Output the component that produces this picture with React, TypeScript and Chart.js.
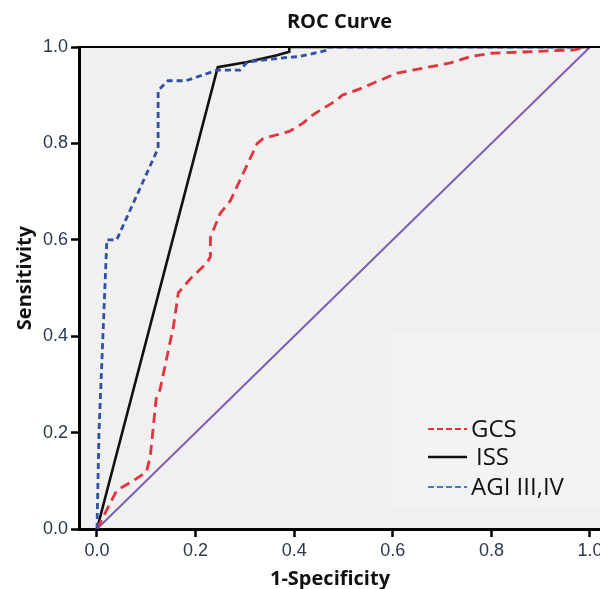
import React, { useEffect, useRef } from "react";
import { Chart, registerables } from "chart.js";

Chart.register(...registerables);

// ---- text ----
const chartTitle = "ROC Curve";
const xAxisTitle = "1-Specificity";
const yAxisTitle = "Sensitivity";

// ---- ticks ----
const xTickValues = [0, 0.2, 0.4, 0.6, 0.8, 1.0];
const yTickValues = [0, 0.2, 0.4, 0.6, 0.8, 1.0];
const xMin = -0.0365;
const xMax = 1.0203;
const yMin = 0;
const yMax = 1;

// ---- series (1-Specificity, Sensitivity) ----
const gcsLabel = "GCS";
const gcsX = [0, 0.02, 0.04, 0.073, 0.1, 0.108, 0.12, 0.128, 0.155, 0.165, 0.19, 0.223, 0.23, 0.23, 0.25, 0.27, 0.325, 0.337, 0.39, 0.418, 0.432, 0.453, 0.487, 0.497, 0.528, 0.609, 0.717, 0.757, 0.8, 0.967, 0.995, 1];
const gcsY = [0, 0.04, 0.08, 0.1, 0.118, 0.15, 0.27, 0.29, 0.42, 0.49, 0.52, 0.552, 0.565, 0.605, 0.655, 0.68, 0.8, 0.81, 0.825, 0.842, 0.855, 0.869, 0.89, 0.9, 0.911, 0.946, 0.967, 0.98, 0.987, 0.994, 1, 1];

const issLabel = "ISS";
const issX = [0, 0.245, 0.305, 0.365, 0.39, 0.39, 1];
const issY = [0, 0.958, 0.969, 0.983, 0.99, 1, 1];

const agiLabel = "AGI III,IV";
const agiX = [0, 0.004, 0.012, 0.02, 0.04, 0.124, 0.124, 0.144, 0.18, 0.244, 0.29, 0.305, 0.39, 0.41, 0.47, 0.47, 1];
const agiY = [0, 0.2, 0.4, 0.6, 0.6, 0.79, 0.91, 0.93, 0.93, 0.952, 0.952, 0.969, 0.979, 0.98, 0.994, 1, 1];

const refX = [0, 1];
const refY = [0, 1];

const toPoints = (xs: number[], ys: number[]) => xs.map((x, i) => ({ x, y: ys[i] }));

const legendItems = [
  { label: gcsLabel, color: "#e8323c", dash: [6, 3], width: 2 },
  { label: issLabel, color: "#111111", dash: [] as number[], width: 2.5 },
  { label: agiLabel, color: "#4a78cc", dash: [6, 3], width: 2 },
];

const rocPlugin = {
  id: "rocDecor",
  beforeDraw(chart: any) {
    const { ctx, chartArea: a } = chart;
    ctx.save();
    ctx.fillStyle = "#f0f0f0";
    ctx.fillRect(a.left, a.top, a.right - a.left, a.bottom - a.top);
    // legend box
    ctx.fillStyle = "#f3f3f3";
    ctx.fillRect(393, 333, a.right - 393, 174);
    ctx.restore();
  },
  afterDraw(chart: any) {
    const { ctx, chartArea: a } = chart;
    ctx.save();
    // top border
    ctx.strokeStyle = "#000";
    ctx.lineWidth = 2;
    ctx.beginPath();
    ctx.moveTo(a.left - 1, a.top);
    ctx.lineTo(a.right, a.top);
    ctx.stroke();

    // axis titles
    ctx.fillStyle = "#111";
    ctx.font = "bold 20px 'Open Sans'";
    ctx.textAlign = "center";
    ctx.textBaseline = "alphabetic";
    ctx.fillText(xAxisTitle, 330, 585);
    ctx.save();
    ctx.translate(31, 278);
    ctx.rotate(-Math.PI / 2);
    ctx.fillText(yAxisTitle, 0, 0);
    ctx.restore();

    // legend
    const rows = [429, 457, 487];
    legendItems.forEach((it, i) => {
      const y = rows[i];
      ctx.strokeStyle = it.color;
      ctx.lineWidth = it.width;
      ctx.setLineDash(it.dash);
      ctx.beginPath();
      ctx.moveTo(428, y);
      ctx.lineTo(467, y);
      ctx.stroke();
      ctx.setLineDash([]);
      ctx.fillStyle = "#111";
      ctx.font = "24px 'Open Sans'";
      ctx.textAlign = "left";
      ctx.textBaseline = "alphabetic";
      ctx.fillText(it.label, i === 1 ? 476 : 471, y + 8);
    });
    ctx.restore();
  },
};

export default function App() {
  const ref = useRef<HTMLCanvasElement | null>(null);
  useEffect(() => {
    document.body.style.margin = "0";
    const canvas = ref.current!;
    const tickFont = { family: "'Liberation Sans', Arial, sans-serif", size: 18 };
    const chart = new Chart(canvas, {
      type: "scatter",
      data: {
        datasets: [
          {
            label: agiLabel,
            data: toPoints(agiX, agiY),
            showLine: true,
            borderColor: "#2f50a3",
            borderWidth: 2.8,
            borderDash: [6, 4],
            pointRadius: 0,
            tension: 0,
            fill: false,
          },
          {
            label: gcsLabel,
            data: toPoints(gcsX, gcsY),
            showLine: true,
            borderColor: "#e5323c",
            borderWidth: 2.8,
            borderDash: [10, 6],
            pointRadius: 0,
            tension: 0,
            fill: false,
          },
          {
            label: issLabel,
            data: toPoints(issX, issY),
            showLine: true,
            borderColor: "#111111",
            borderWidth: 2.6,
            pointRadius: 0,
            tension: 0,
            fill: false,
          },
          {
            label: "Reference",
            data: toPoints(refX, refY),
            showLine: true,
            borderColor: "#7d5db6",
            borderWidth: 2,
            pointRadius: 0,
            tension: 0,
            fill: false,
          },
        ],
      },
      options: {
        responsive: false,
        animation: false,
        layout: { padding: 0 },
        plugins: {
          legend: { display: false },
          tooltip: { enabled: false },
          title: {
            display: true,
            text: chartTitle,
            fullSize: false,
            color: "#111",
            font: { family: "'Open Sans'", size: 20, weight: "bold", lineHeight: 1.2 },
            padding: { top: 10, bottom: 13 },
          },
        },
        scales: {
          x: {
            type: "linear",
            min: xMin,
            max: xMax,
            afterBuildTicks: (s: any) => {
              s.ticks = xTickValues.map((v) => ({ value: v }));
            },
            afterFit: (s: any) => {
              s.height = 60;
              s.paddingLeft = 0;
              s.paddingRight = 0;
            },
            ticks: {
              color: "#2a3850",
              font: tickFont,
              padding: 3,
              maxRotation: 0,
              autoSkip: false,
              callback: (v: any) => Number(v).toFixed(1),
            },
            grid: {
              drawOnChartArea: false,
              drawTicks: true,
              tickLength: 8,
              tickWidth: 2.5,
              tickColor: "#000",
            },
            border: { display: true, color: "#000", width: 3 },
            title: { display: false },
          },
          y: {
            type: "linear",
            min: yMin,
            max: yMax,
            afterBuildTicks: (s: any) => {
              s.ticks = yTickValues.map((v) => ({ value: v }));
            },
            afterFit: (s: any) => {
              s.width = 79;
              s.paddingTop = 0;
              s.paddingBottom = 0;
            },
            ticks: {
              color: "#2a3850",
              font: tickFont,
              padding: 3,
              autoSkip: false,
              callback: (v: any) => Number(v).toFixed(1),
            },
            grid: {
              drawOnChartArea: false,
              drawTicks: true,
              tickLength: 8,
              tickWidth: 2.5,
              tickColor: "#000",
            },
            border: { display: true, color: "#000", width: 3 },
            title: { display: false },
          },
        },
      },
      plugins: [rocPlugin],
    } as any);
    return () => chart.destroy();
  }, []);
  return (
    <div style={{ position: "relative", width: 600, height: 589 }}>
      <canvas ref={ref} width={600} height={589} style={{ display: "block" }} />
    </div>
  );
}
